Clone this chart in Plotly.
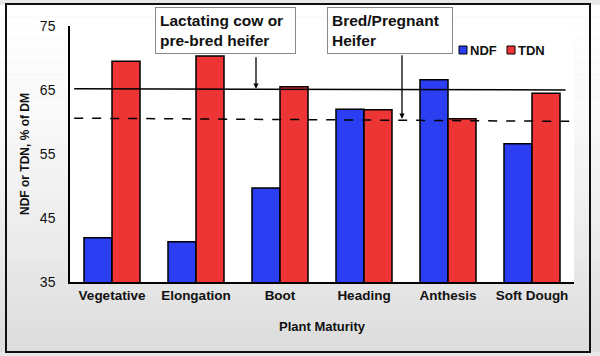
import plotly.graph_objects as go

categories = ["Vegetative", "Elongation", "Boot", "Heading", "Anthesis", "Soft Dough"]
ndf = [41.9, 41.3, 49.7, 62.0, 66.6, 56.6]
tdn = [69.5, 70.3, 65.5, 61.9, 60.5, 64.5]
y_ticks = [35, 45, 55, 65, 75]
lactating_line = [65.2, 65.0]
pregnant_line = [60.6, 60.1]
series_names = ["NDF", "TDN"]
series_colors = ["#2b3ef2", "#ee3535"]

W, H = 600, 356
L, R, T, B = 70, 574, 26, 282
FONT = "Liberation Sans, Arial"

def px(x):
    return (x - L) / (R - L)

def py(y):
    return (B - y) / (B - T)

fig = go.Figure()
for name, vals, col in zip(series_names, [ndf, tdn], series_colors):
    fig.add_trace(go.Bar(x=categories, y=vals, name=name,
                         marker=dict(color=col, line=dict(color="#000", width=1.5))))

fig.add_trace(go.Scatter(x=[-0.45, 5.4], y=lactating_line, mode="lines", xaxis="x2",
                         line=dict(color="#000", width=1.5), showlegend=False, hoverinfo="skip"))
fig.add_trace(go.Scatter(x=[-0.45, 5.45], y=pregnant_line, mode="lines", xaxis="x2",
                         line=dict(color="#000", width=1.5, dash="dash"), showlegend=False, hoverinfo="skip"))

shapes = []
n = 30
for i in range(n):
    y0 = 5 + (352 - 5) * i / n
    y1 = 5 + (352 - 5) * (i + 1) / n
    t = i / (n - 1)
    g = int(255 - 34 * t ** 1.5)
    shapes.append(dict(type="rect", xref="paper", yref="paper", x0=px(0), x1=px(W), y0=py(y1), y1=py(y0),
                       fillcolor=f"rgb({g},{g},{g})", line=dict(width=0), layer="below"))
shapes.append(dict(type="rect", xref="paper", yref="paper", x0=0, x1=1, y0=0, y1=1,
                   fillcolor="white", line=dict(width=0), layer="below"))
shapes.append(dict(type="rect", xref="paper", yref="paper", x0=px(6), x1=px(590), y0=py(352), y1=py(4),
                   fillcolor="rgba(0,0,0,0)", line=dict(color="#111", width=2), layer="above"))

leg_x = [459, 507]
for name, col, lx in zip(series_names, series_colors, leg_x):
    shapes.append(dict(type="rect", xref="paper", yref="paper", x0=px(lx), x1=px(lx + 8), y0=py(54), y1=py(46),
                       fillcolor=col, line=dict(color="#000", width=1), layer="above"))

annotations = [
    dict(xref="paper", yref="paper", x=px(225.5), y=py(30), xanchor="center", yanchor="middle",
         text="<b>Lactating cow or<br>pre-bred heifer</b>",
         showarrow=False, align="left", font=dict(size=15.5, color="#111", family=FONT),
         bordercolor="#888", borderwidth=1, bgcolor="white", borderpad=4, width=131),
    dict(xref="paper", yref="paper", x=px(390), y=py(30), xanchor="center", yanchor="middle",
         text="<b>Bred/Pregnant<br>Heifer</b>",
         showarrow=False, align="left", font=dict(size=15.5, color="#111", family=FONT),
         bordercolor="#888", borderwidth=1, bgcolor="white", borderpad=4, width=116),
    dict(xref="paper", yref="y", x=px(256), y=lactating_line[0], ax=0, ay=-33, text="", showarrow=True,
         arrowhead=2, arrowsize=0.8, arrowwidth=1.3, arrowcolor="#000"),
    dict(xref="paper", yref="y", x=px(402), y=pregnant_line[0] - 0.1, ax=0, ay=-65, text="", showarrow=True,
         arrowhead=2, arrowsize=0.8, arrowwidth=1.3, arrowcolor="#000"),
]
for name, lx in zip(series_names, leg_x):
    annotations.append(dict(xref="paper", yref="paper", x=px(lx + 9), y=py(50), xanchor="left", yanchor="middle",
                            text=f"<b>{name}</b>", showarrow=False, font=dict(size=13, color="#111", family=FONT)))

fig.update_layout(
    width=W, height=H,
    margin=dict(l=L, r=W - R, t=T, b=H - B, autoexpand=False),
    paper_bgcolor="#e8e8e8",
    plot_bgcolor="rgba(0,0,0,0)",
    barmode="group", bargap=0.333, bargroupgap=0,
    font=dict(family=FONT, color="#111"),
    shapes=shapes, annotations=annotations,
    showlegend=False,
    xaxis=dict(showline=True, linecolor="#000", linewidth=1.5, ticks="", showgrid=False, automargin=False,
               tickfont=dict(size=13.5), tickprefix="<b>", ticksuffix="</b>",
               title=dict(text="<b>Plant Maturity</b>", font=dict(size=13), standoff=20)),
    xaxis2=dict(overlaying="x", range=[-0.5, 5.5], visible=False),
    yaxis=dict(range=[35, 75], tickvals=y_ticks, showline=True, linecolor="#000", linewidth=1.5,
               ticks="", showgrid=False, zeroline=False, tickfont=dict(size=14), automargin=False,
               tickprefix="<b>", ticksuffix="</b>", ticklabelstandoff=10,
               title=dict(text="<b>NDF or TDN, % of DM</b>", font=dict(size=12), standoff=8)),
)

fig.write_html("out.html", config={"displayModeBar": False},
               post_script="document.body.style.margin='0';document.body.style.background='#e8e8e8';")
